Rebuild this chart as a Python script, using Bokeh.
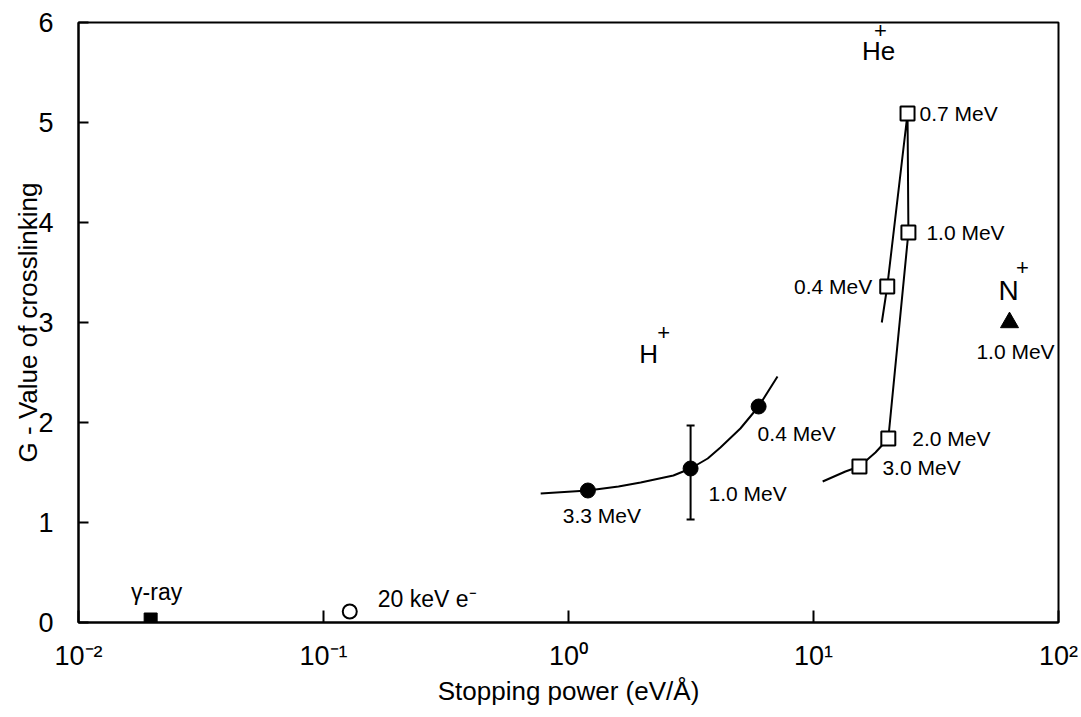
from bokeh.plotting import figure
from bokeh.models import Range1d, FixedTicker, CustomJSTickFormatter
from bokeh.core.properties import value
from bokeh.embed import file_html
from bokeh.resources import INLINE

FONT = "Liberation Sans"

# ---- data (stopping power in eV/Å, G-value of crosslinking) ----
x_ticks = [0.01, 0.1, 1, 10, 100]
y_ticks = [0, 1, 2, 3, 4, 5, 6]

gamma_x = [0.0197]
gamma_y = [0.03]

elec_x = [0.128]
elec_y = [0.11]

h_labels = ["3.3 MeV", "1.0 MeV", "0.4 MeV"]
h_x = [1.20, 3.15, 5.97]
h_y = [1.32, 1.54, 2.16]
h_err_x = [3.15]
h_err_lo = [1.03]
h_err_hi = [1.97]

h_curve_x = [0.77, 1.20, 1.60, 1.97, 2.68, 3.15, 3.70, 4.17, 5.03, 5.97, 7.13]
h_curve_y = [1.29, 1.32, 1.36, 1.40, 1.47, 1.54, 1.64, 1.75, 1.94, 2.16, 2.46]

he_labels = ["0.4 MeV", "0.7 MeV", "1.0 MeV", "2.0 MeV", "3.0 MeV"]
he_x = [20.0, 24.2, 24.4, 20.2, 15.4]
he_y = [3.36, 5.09, 3.90, 1.84, 1.56]

he_curve_x = [19.0, 20.0, 24.2, 24.4, 20.2, 17.9, 15.4, 13.5, 10.9]
he_curve_y = [3.00, 3.36, 5.09, 3.90, 1.84, 1.70, 1.56, 1.51, 1.41]

n_labels = ["1.0 MeV"]
n_x = [63.1]
n_y = [3.0]

p = figure(width=1081, height=717, x_axis_type="log",
           x_range=Range1d(0.01, 100), y_range=Range1d(0, 6),
           output_backend="svg", toolbar_location=None,
           min_border_left=78, min_border_right=23,
           min_border_top=22, min_border_bottom=95)
p.background_fill_color = "white"
p.border_fill_color = "white"
p.outline_line_color = "black"
p.outline_line_width = 2
p.xgrid.visible = False
p.ygrid.visible = False

for ax in (p.xaxis[0], p.yaxis[0]):
    ax.axis_line_width = 2
    ax.major_tick_line_width = 2
    ax.major_tick_out = 0
    ax.minor_tick_line_color = None
    ax.major_label_text_font = FONT
    ax.major_label_text_font_size = "27px"
    ax.major_label_text_color = "black"
    ax.axis_label_text_font = FONT
    ax.axis_label_text_font_size = "26px"
    ax.axis_label_text_font_style = "normal"
    ax.axis_label_text_color = "black"

p.xaxis.ticker = FixedTicker(ticks=x_ticks, minor_ticks=[])
p.xaxis.major_tick_in = 12
p.xaxis.major_label_standoff = 18
p.xaxis.axis_label = "Stopping power (eV/Å)"
p.xaxis.axis_label_standoff = 2
p.xaxis.formatter = CustomJSTickFormatter(code="""
const e = Math.round(Math.log10(tick));
const sup = {"-": "\\u207B", "0": "\\u2070", "1": "\\u00B9", "2": "\\u00B2", "3": "\\u00B3"};
return "10" + String(e).split("").map(c => sup[c]).join("");
""")

p.yaxis.ticker = FixedTicker(ticks=y_ticks, minor_ticks=[])
p.yaxis.major_tick_in = 10
p.yaxis.major_label_standoff = 25
p.yaxis.axis_label = "G - Value of crosslinking"
p.yaxis.axis_label_standoff = -8

# ---- curves ----
p.line(h_curve_x, h_curve_y, line_color="black", line_width=2)
p.line(he_curve_x, he_curve_y, line_color="black", line_width=2)

# ---- error bar on the 1.0 MeV proton point ----
p.segment(h_err_x, h_err_lo, h_err_x, h_err_hi, line_color="black", line_width=2)
p.rect(h_err_x, h_err_lo, width=8, height=2, width_units="screen",
       height_units="screen", fill_color="black", line_color=None)
p.rect(h_err_x, h_err_hi, width=8, height=2, width_units="screen",
       height_units="screen", fill_color="black", line_color=None)

# ---- markers ----
p.scatter(gamma_x, gamma_y, marker="square", size=13, fill_color="black",
          line_color="black")
p.scatter(elec_x, elec_y, marker="circle", size=14, fill_color="white",
          line_color="black", line_width=2)
p.scatter(h_x, h_y, marker="circle", size=15, fill_color="black",
          line_color="black")
p.scatter(he_x, he_y, marker="square", size=14, fill_color="white",
          line_color="black", line_width=2)
p.scatter(n_x, n_y, marker="triangle", size=18, fill_color="black",
          line_color="black")


def label(x, y, text, dx=0, dy=0, align="left", size="21px"):
    p.text([x], [y], text=[text], x_offset=dx, y_offset=dy,
           text_font=value(FONT), text_font_size=size, text_color="black",
           text_align=align, text_baseline="middle")


# energy labels
h_off = {"3.3 MeV": (14, 25, "center"), "1.0 MeV": (18, 25, "left"),
         "0.4 MeV": (-1, 27, "left")}
for t, x, y in zip(h_labels, h_x, h_y):
    dx, dy, al = h_off[t]
    label(x, y, t, dx, dy, al)

he_off = {"0.4 MeV": (-15, 0, "right"), "0.7 MeV": (12, 0, "left"),
          "1.0 MeV": (18, 0, "left"), "2.0 MeV": (24, 0, "left"),
          "3.0 MeV": (23, 1, "left")}
for t, x, y in zip(he_labels, he_x, he_y):
    dx, dy, al = he_off[t]
    label(x, y, t, dx, dy, al)

for t, x, y in zip(n_labels, n_x, n_y):
    label(x, y, t, 6, 29, "center")

# species labels
label(gamma_x[0], gamma_y[0], "γ-ray", 6, -28, "center", "23px")
label(elec_x[0], elec_y[0], "20 keV e⁻", 28, -13, "left", "23px")

label(h_x[1], h_y[1], "H", -42, -115, "center", "26px")
label(h_x[1], h_y[1], "+", -27, -136, "center", "22px")
label(he_x[1], he_y[1], "He", -29, -63, "center", "26px")
label(he_x[1], he_y[1], "+", -27, -83, "center", "22px")
label(n_x[0], n_y[0], "N", -1, -32, "center", "28px")
label(n_x[0], n_y[0], "+", 13, -55, "center", "22px")

open("out.html", "w").write(file_html(p, INLINE))
